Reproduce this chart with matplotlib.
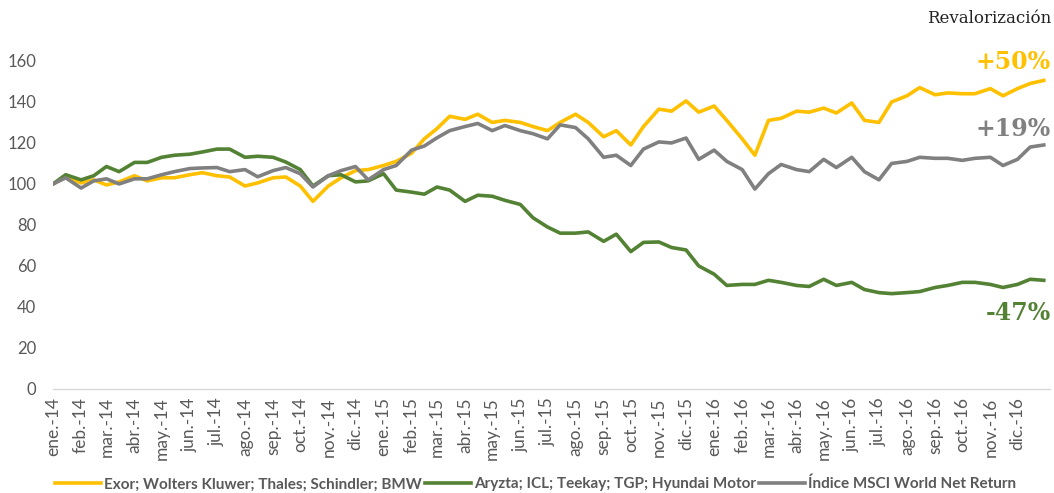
import numpy as np
import pandas as pd
import matplotlib
matplotlib.use('Agg')
import matplotlib.pyplot as plt

# fechas: dia 1 y 15 de cada mes + cierre
fechas = list(pd.date_range('2014-01-01', '2016-12-31', freq='SMS')) + [pd.Timestamp('2016-12-30')]

exor = [100, 103.4, 100.5, 102, 99.5, 101, 104, 101.5, 103, 103, 104.5, 105.5,
        104, 103.4, 99, 100.5, 103, 103.4, 99, 91.5, 99, 103, 106.5, 107,
        109, 111, 115, 122, 127, 133, 131.5, 134, 130, 131, 130, 128,
        126, 130, 134, 130, 123, 126, 119, 128, 136.5, 135.5, 140.5, 135,
        138, 131, 122, 114, 131, 132, 135.5, 135, 137, 134.6, 139.5, 131,
        130, 140, 143, 147, 143.5, 144.4, 144, 144, 146.5, 143, 146.5, 149,
        150.5]

aryzta = [100, 104.5, 102, 104, 108.5, 106, 110.5, 110.5, 113, 114, 114.5, 115.6,
          117, 117, 113, 113.5, 113, 110.7, 107, 99, 104, 104.5, 101, 101.5,
          105, 97, 96, 95, 98.5, 97, 91.5, 94.5, 94, 92, 90, 83.5,
          79, 76, 76, 76.6, 72, 75.5, 67, 71.5, 71.7, 69, 67.8, 60,
          56, 50.5, 51, 51, 53, 52, 50.5, 50, 53.5, 50.5, 52, 48.5,
          47, 46.5, 47, 47.5, 49.5, 50.5, 52, 52, 51, 49.5, 51, 53.5,
          53]

msci = [100, 103, 98, 101.5, 102.5, 100, 102.5, 102.5, 104.5, 106, 107.5, 107.8,
        108, 106, 107, 103.5, 106.5, 108, 105, 98.5, 104, 106.5, 108.5, 102,
        107, 109, 116.5, 118.5, 122.5, 126, 128, 129.5, 126, 128.5, 126, 124.5,
        122, 128.8, 127.5, 122, 113, 114, 109, 117, 120.5, 120, 122.4, 112,
        116.5, 111, 107, 97.5, 105, 109.5, 107, 106, 112, 108, 113, 106,
        102, 110, 111, 113, 112.5, 112.5, 111.5, 112.5, 113, 109, 112, 118,
        119]

nombres = ['Exor; Wolters Kluwer; Thales; Schindler; BMW',
           'Aryzta; ICL; Teekay; TGP; Hyundai Motor',
           'Índice MSCI World Net Return']
colores = ['#FFC000', '#548235', '#808080']
etiquetas = ['+50%', '-47%', '+19%']
meses_es = ['ene.', 'feb.', 'mar.', 'abr.', 'may.', 'jun.',
            'jul.', 'ago.', 'sep.', 'oct.', 'nov.', 'dic.']

plt.rcParams['font.family'] = ['Lato', 'DejaVu Sans']

fig = plt.figure(figsize=(10.54, 4.93), dpi=100)
ax = fig.add_axes([0.0503, 0.211, 0.946, 0.707])

series = [exor, aryzta, msci]
for s, c, n in zip(series, colores, nombres):
    ax.plot(fechas, s, color=c, lw=2.6, label=n, solid_joinstyle='round')

ticks = pd.date_range('2014-01-01', '2016-12-01', freq='MS')
ax.set_xticks(ticks)
ax.set_xticklabels([meses_es[t.month - 1] + '-' + str(t.year)[2:] for t in ticks],
                   rotation=90, fontsize=12.5, color='#595959')
ax.set_xlim(pd.Timestamp('2014-01-01'), pd.Timestamp('2017-01-06'))
ax.set_ylim(0, 170)
ax.set_yticks([0, 20, 40, 60, 80, 100, 120, 140, 160])
ax.tick_params(axis='y', labelsize=12, labelcolor='#595959', length=0, pad=12)
ax.tick_params(axis='x', length=0, pad=6)

for sp in ['top', 'right', 'left']:
    ax.spines[sp].set_visible(False)
ax.spines['bottom'].set_color('#D9D9D9')
ax.spines['bottom'].set_linewidth(1)

leg = fig.legend(loc='center', bbox_to_anchor=(0.508, 0.018), ncol=3, frameon=False,
                 fontsize=11, handlelength=3.0, columnspacing=0.2, handletextpad=0.2)
for t in leg.get_texts():
    t.set_color('#595959')
    t.set_fontweight('bold')

fig.text(0.997, 0.963, 'Revalorización', ha='right', va='center',
         fontsize=12, family='DejaVu Serif', color='#222222')
fig.text(0.997, 0.874, etiquetas[0], ha='right', va='center', fontsize=17,
         fontweight='bold', family='DejaVu Serif', color=colores[0])
fig.text(0.997, 0.738, etiquetas[2], ha='right', va='center', fontsize=17,
         fontweight='bold', family='DejaVu Serif', color=colores[2])
fig.text(0.997, 0.365, etiquetas[1], ha='right', va='center', fontsize=17,
         fontweight='bold', family='DejaVu Serif', color=colores[1])

fig.savefig('out.png', dpi=100)
